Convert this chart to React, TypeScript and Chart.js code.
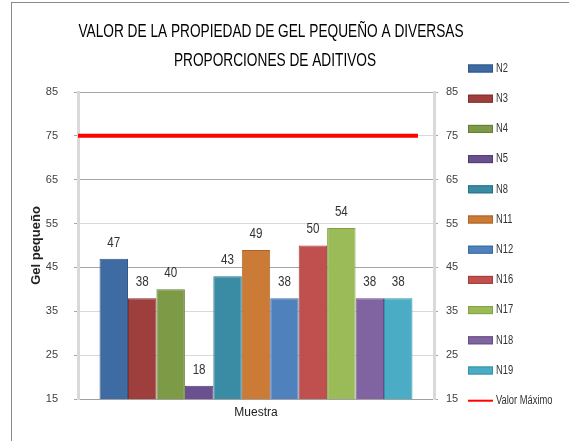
import React, { useEffect, useRef } from "react";
import { Chart, registerables } from "chart.js";

Chart.register(...registerables);

const titleLines = ["VALOR DE LA PROPIEDAD DE GEL PEQUEÑO A DIVERSAS", "PROPORCIONES DE ADITIVOS"];
const categories = ["Muestra"];
const seriesNames = ["N2", "N3", "N4", "N5", "N8", "N11", "N12", "N16", "N17", "N18", "N19"];
const seriesValues = [47, 38, 40, 18, 43, 49, 38, 50, 54, 38, 38];
const seriesColors = ["#3e6ba1", "#9e3f3d", "#7d9a46", "#6a508f", "#3a8ca4", "#cc7b37", "#4f81bd", "#c0504d", "#9bbb59", "#8064a2", "#4bacc6"];
const seriesBorders = ["#2f5686", "#822f2d", "#657e36", "#533c74", "#2c7087", "#ad6227", "#3b6aa3", "#a23d3a", "#80a043", "#664d86", "#3691aa"];
const maxLabel = "Valor Máximo";
const maxValue = 75;
// line endpoints in category-index units (category "Muestra" spans -0.5 .. 0.5)
const maxLineX = [-0.5, 0.455];
const yTicks = [15, 25, 35, 45, 55, 65, 75, 85];
const yAxisTitle = "Gel pequeño";

const SANS = "'Liberation Sans', Arial, sans-serif";
const darkGrid = new Set([15, 45, 65, 85]);

function narrowText(ctx: CanvasRenderingContext2D, text: string, x: number, y: number, sx: number, align: CanvasTextAlign) {
  ctx.save();
  ctx.translate(x, y);
  ctx.scale(sx, 1);
  ctx.textAlign = align;
  ctx.fillText(text, 0, 0);
  ctx.restore();
}

const titlePlugin = {
  id: "narrowTitle",
  afterDraw(chart: any) {
    const ctx = chart.ctx;
    ctx.save();
    ctx.font = `18px ${SANS}`;
    ctx.fillStyle = "#000000";
    ctx.textBaseline = "middle";
    narrowText(ctx, titleLines[0], 271, 32.5, 0.76, "center");
    narrowText(ctx, titleLines[1], 275, 61.5, 0.76, "center");
    ctx.restore();
  },
};

const valueLabels = {
  id: "valueLabels",
  afterDatasetsDraw(chart: any) {
    const ctx = chart.ctx;
    ctx.save();
    ctx.font = `14px ${SANS}`;
    ctx.fillStyle = "#333333";
    ctx.textBaseline = "middle";
    chart.data.datasets.forEach((ds: any, i: number) => {
      if (ds.type === "line") return;
      const meta = chart.getDatasetMeta(i);
      meta.data.forEach((el: any, j: number) => {
        narrowText(ctx, String(ds.data[j]), el.x, el.y - 16, 0.83, "center");
      });
    });
    ctx.restore();
  },
};

const customLegend = {
  id: "customLegend",
  afterDraw(chart: any) {
    const ctx = chart.ctx;
    ctx.save();
    ctx.font = `12px ${SANS}`;
    ctx.textBaseline = "middle";
    chart.data.datasets.forEach((ds: any, i: number) => {
      const cy = 68.5 + i * 30.2;
      const bx = 468;
      if (ds.type === "line") {
        ctx.strokeStyle = ds.borderColor;
        ctx.lineWidth = 2;
        ctx.beginPath();
        ctx.moveTo(bx, cy);
        ctx.lineTo(bx + 25, cy);
        ctx.stroke();
      } else {
        ctx.fillStyle = ds.backgroundColor;
        ctx.fillRect(bx, cy - 4, 25, 8);
        ctx.strokeStyle = ds.borderColor;
        ctx.lineWidth = 1;
        ctx.strokeRect(bx + 0.5, cy - 3.5, 24, 7);
      }
      ctx.fillStyle = "#333333";
      narrowText(ctx, ds.label, bx + 28, cy, 0.78, "left");
    });
    ctx.restore();
  },
};

export default function App() {
  const ref = useRef<HTMLCanvasElement>(null);
  useEffect(() => {
    if (!ref.current) return;
    const barSets = seriesNames.map((name, i) => ({
      type: "bar" as const,
      label: name,
      data: [seriesValues[i]],
      backgroundColor: seriesColors[i],
      borderColor: seriesBorders[i],
      borderWidth: 1,
      xAxisID: "x",
      yAxisID: "y",
      categoryPercentage: 0.879,
      barPercentage: 1,
      order: 2,
    }));
    const lineSet = {
      type: "line" as const,
      label: maxLabel,
      parsing: false,
      normalized: true,
      data: maxLineX.map((x) => ({ x, y: maxValue })),
      borderColor: "#ff0000",
      backgroundColor: "#ff0000",
      borderWidth: 4,
      pointRadius: 0,
      xAxisID: "x",
      yAxisID: "y",
      order: 1,
    };
    const chart = new Chart(ref.current, {
      type: "bar",
      data: { labels: categories, datasets: [...barSets, lineSet] as any },
      plugins: [valueLabels, customLegend, titlePlugin],
      options: {
        animation: false,
        responsive: false,
        devicePixelRatio: 1,
        layout: { padding: { left: 0, right: 25, top: 92, bottom: 0 } },
        plugins: {
          legend: { display: false },
          tooltip: { enabled: false },
          title: { display: false },
        },
        scales: {
          x: {
            type: "category",
            position: "bottom",
            offset: true,
            min: 0,
            max: 0,
            grid: { display: false, drawTicks: false },
            border: { display: true, color: "#a0a0a0", width: 1 },
            ticks: { color: "#222222", font: { family: SANS, size: 12 }, padding: 6 },
            afterFit: (s: any) => { s.height = 42; },
          },
          y: {
            type: "linear",
            position: "left",
            min: 15,
            max: 85,
            afterBuildTicks: (s: any) => { s.ticks = yTicks.map((v) => ({ value: v })); },
            grid: {
              color: (c: any) => (darkGrid.has(c.tick?.value) ? "#a6a6a6" : "#d9d9d9"),
              tickColor: "#a6a6a6",
              tickLength: 4,
              lineWidth: 1,
            },
            border: { color: "#d9d9d9", width: 3 },
            ticks: { color: "#404040", font: { family: SANS, size: 11 }, padding: 16 },
            title: {
              display: true,
              text: yAxisTitle,
              color: "#222222",
              font: { family: SANS, size: 13, weight: "bold" },
              padding: { top: 29, bottom: 0 },
            },
            afterFit: (s: any) => { s.width = 78; },
          },
          y2: {
            type: "linear",
            position: "right",
            min: 15,
            max: 85,
            afterBuildTicks: (s: any) => { s.ticks = yTicks.map((v) => ({ value: v })); },
            grid: { drawOnChartArea: false, tickColor: "#a6a6a6", tickLength: 4 },
            border: { color: "#d9d9d9", width: 3 },
            ticks: { color: "#404040", font: { family: SANS, size: 11 }, padding: 8 },
            afterFit: (s: any) => { s.width = 110; },
          },
        },
      } as any,
    });
    return () => chart.destroy();
  }, []);

  return (
    <div style={{ position: "fixed", left: 0, top: 0, width: 569, height: 441, background: "#ffffff", overflow: "hidden" }}>
      <canvas ref={ref} width={569} height={441} style={{ position: "absolute", left: 0, top: 0, width: 569, height: 441 }} />
      <div
        style={{
          position: "absolute",
          left: 11,
          top: 2,
          width: 600,
          height: 500,
          borderLeft: "1px solid #8a8a8a",
          borderTop: "1px solid #8a8a8a",
          pointerEvents: "none",
        }}
      />
    </div>
  );
}
